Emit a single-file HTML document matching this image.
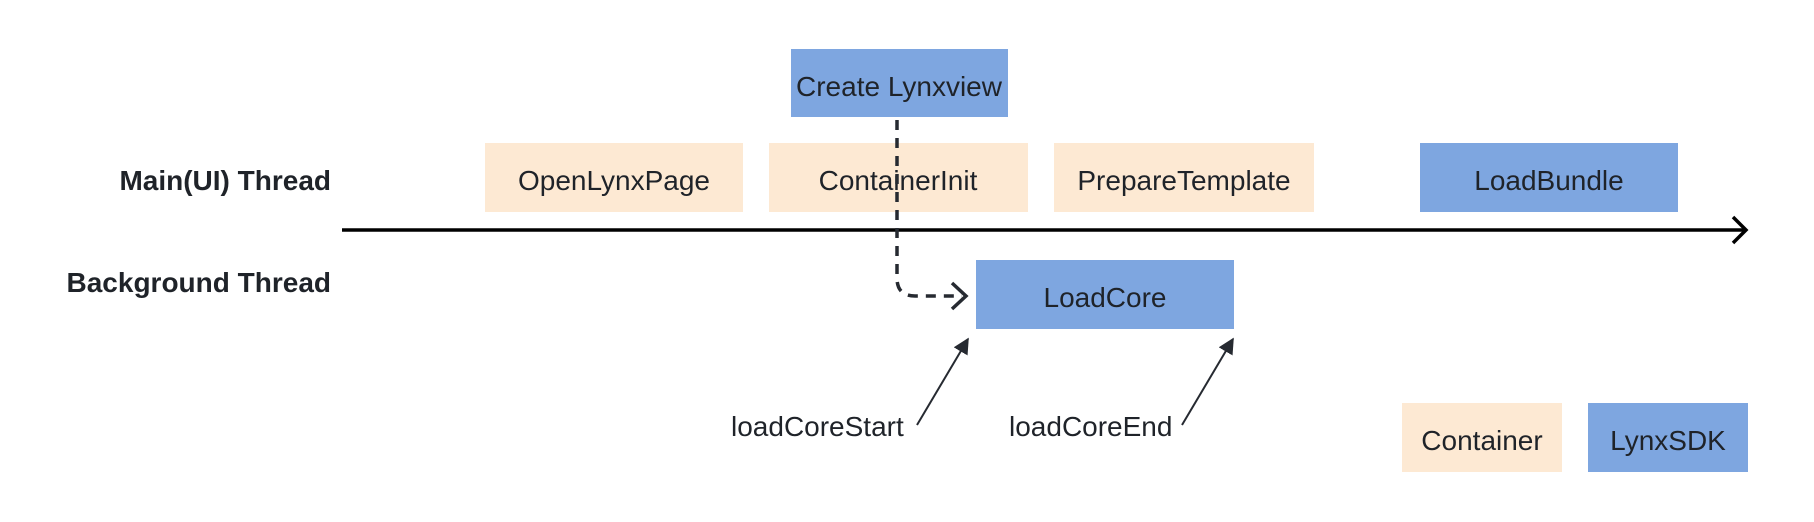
<!DOCTYPE html>
<html><head><meta charset="utf-8"><style>
body{margin:0;background:#fff;}
svg{display:block}
text{font-family:"Liberation Sans",sans-serif;fill:#1f2329;}
</style></head><body>
<svg width="1814" height="522" viewBox="0 0 1814 522" xmlns="http://www.w3.org/2000/svg">
<defs>
<marker id="fa" viewBox="0 0 10 10" refX="9" refY="5" markerWidth="16" markerHeight="16" orient="auto" markerUnits="userSpaceOnUse">
<path d="M0,0 L10,5 L0,10 z" fill="#262a31"/></marker>
</defs>
<g font-size="28" text-anchor="middle">
<rect x="791" y="49" width="217" height="68" fill="#7ea6e0"/>
<text x="899" y="96">Create Lynxview</text>
<rect x="485" y="143" width="258" height="69" fill="#fde9d3"/>
<text x="614" y="190">OpenLynxPage</text>
<rect x="769" y="143" width="259" height="69" fill="#fde9d3"/>
<text x="898" y="190">ContainerInit</text>
<rect x="1054" y="143" width="260" height="69" fill="#fde9d3"/>
<text x="1184" y="190">PrepareTemplate</text>
<rect x="1420" y="143" width="258" height="69" fill="#7ea6e0"/>
<text x="1549" y="190">LoadBundle</text>
<rect x="976" y="260" width="258" height="69" fill="#7ea6e0"/>
<text x="1105" y="307">LoadCore</text>
<rect x="1402" y="403" width="160" height="69" fill="#fde9d3"/>
<text x="1482" y="450">Container</text>
<rect x="1588" y="403" width="160" height="69" fill="#7ea6e0"/>
<text x="1668" y="450">LynxSDK</text>
</g>
<g font-size="28" font-weight="bold" text-anchor="end">
<text x="331" y="190">Main(UI) Thread</text>
<text x="331" y="292">Background Thread</text>
</g>
<line x1="342" y1="230" x2="1745" y2="230" stroke="#000" stroke-width="3.5"/>
<path d="M1733,217 L1746,230 L1733,243" fill="none" stroke="#000" stroke-width="3.5"/>
<path d="M897,120 L897,278 Q897,296 915,296 L962,296" fill="none" stroke="#262a31" stroke-width="3.5" stroke-dasharray="10,8"/>
<path d="M952,283 L966,296 L952,309" fill="none" stroke="#262a31" stroke-width="3.5"/>
<line x1="917" y1="425" x2="968" y2="339" stroke="#262a31" stroke-width="2" marker-end="url(#fa)"/>
<line x1="1182" y1="425" x2="1233" y2="339" stroke="#262a31" stroke-width="2" marker-end="url(#fa)"/>
<g font-size="28">
<text x="731" y="436">loadCoreStart</text>
<text x="1009" y="436">loadCoreEnd</text>
</g>
</svg>
</body></html>
